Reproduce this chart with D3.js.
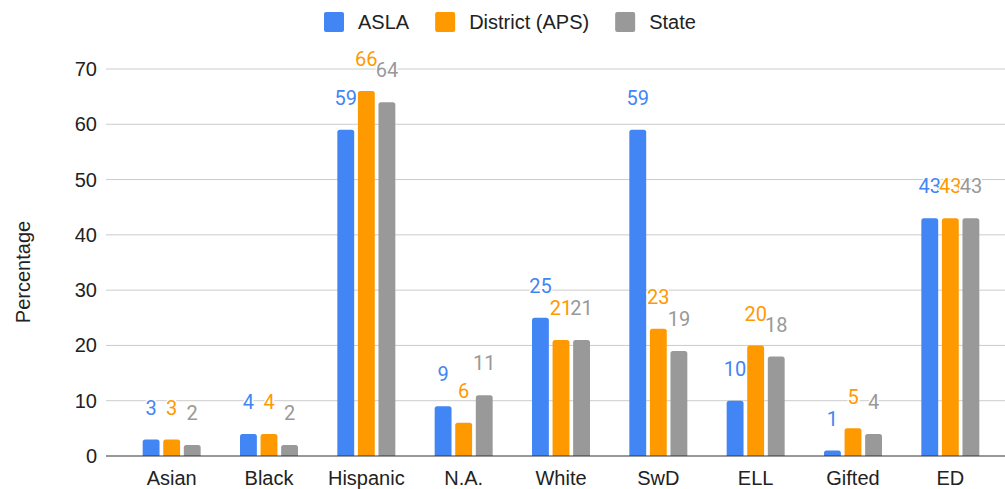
<!DOCTYPE html>
<html>
<head>
<meta charset="utf-8">
<script src="https://cdn.jsdelivr.net/npm/d3@7"></script>
<style>
  body { margin: 0; background: #fff; }
  text { font-family: "Liberation Sans", Arial, sans-serif; }
  .val { font-family: Roboto, Arial, sans-serif; }
</style>
</head>
<body>
<div class="chart"></div>
<script>
const categories = ['Asian', 'Black', 'Hispanic', 'N.A.', 'White', 'SwD', 'ELL', 'Gifted', 'ED'];
const seriesNames = ['ASLA', 'District (APS)', 'State'];
const asla = [3, 4, 59, 9, 25, 59, 10, 1, 43];
const district = [3, 4, 66, 6, 21, 23, 20, 5, 43];
const state = [2, 2, 64, 11, 21, 19, 18, 4, 43];
const yTicks = [0, 10, 20, 30, 40, 50, 60, 70];
const colors = ['#4285f4', '#ff9900', '#999999'];

const w = 1005;
const h = 489;

const svg = d3.select('.chart')
    .append('svg')
    .attr('width', w)
    .attr('height', h);

const seriesValues = [asla, district, state];

const x = d3.scaleBand()
    .domain(categories)
    .range([123, 999]);

const xInner = d3.scaleBand()
    .domain(seriesNames)
    .range([-29, 29])
    .paddingInner(0.18);

const y = d3.scaleLinear()
    .domain([0, 70])
    .range([456, 69]);

// gridlines
svg.append('g')
    .selectAll('line')
    .data(yTicks.filter(d => d !== 0))
    .enter()
    .append('line')
    .attr('x1', 106)
    .attr('x2', w)
    .attr('y1', d => y(d))
    .attr('y2', d => y(d))
    .attr('stroke', '#cccccc')
    .attr('stroke-width', 1);

// y tick labels
svg.append('g')
    .selectAll('text')
    .data(yTicks)
    .enter()
    .append('text')
    .attr('x', 97)
    .attr('y', d => y(d))
    .attr('dy', '0.35em')
    .attr('text-anchor', 'end')
    .style('font-size', '20px')
    .attr('fill', '#222')
    .text(d => d);

// y title
svg.append('text')
    .attr('transform', 'translate(23,272) rotate(-90)')
    .attr('text-anchor', 'middle')
    .attr('dy', '0.35em')
    .style('font-size', '20px')
    .attr('fill', '#222')
    .text('Percentage');

// bars
const rows = [];
categories.forEach((c, i) => {
    seriesNames.forEach((s, j) => {
        rows.push({ cat: c, series: s, idx: j, value: seriesValues[j][i] });
    });
});

const barPath = (d) => {
    const x0 = x(d.cat) + x.bandwidth() / 2 + xInner(d.series);
    const bw = xInner.bandwidth();
    const y0 = y(0);
    const y1 = y(d.value);
    const r = Math.min(2.5, (y0 - y1) / 2);
    return `M${x0},${y0} L${x0},${y1 + r} Q${x0},${y1} ${x0 + r},${y1} L${x0 + bw - r},${y1} Q${x0 + bw},${y1} ${x0 + bw},${y1 + r} L${x0 + bw},${y0} Z`;
};

svg.append('g')
    .selectAll('path')
    .data(rows)
    .enter()
    .append('path')
    .attr('d', barPath)
    .attr('fill', d => colors[d.idx]);

// baseline
svg.append('line')
    .attr('x1', 106)
    .attr('x2', w)
    .attr('y1', y(0))
    .attr('y2', y(0))
    .attr('stroke', '#333')
    .attr('stroke-width', 1.2);

// value labels
svg.append('g')
    .selectAll('text')
    .data(rows)
    .enter()
    .append('text')
    .attr('class', 'val')
    .attr('x', d => x(d.cat) + x.bandwidth() / 2 + xInner(d.series) + xInner.bandwidth() / 2)
    .attr('y', d => y(d.value) - 32)
    .attr('dy', '0.36em')
    .attr('text-anchor', 'middle')
    .style('font-size', '20px')
    .attr('fill', d => colors[d.idx])
    .attr('stroke', '#fff')
    .attr('stroke-width', 3)
    .attr('paint-order', 'stroke')
    .text(d => d.value);

// x labels
svg.append('g')
    .selectAll('text')
    .data(categories)
    .enter()
    .append('text')
    .attr('x', d => x(d) + x.bandwidth() / 2)
    .attr('y', 478)
    .attr('dy', '0.35em')
    .attr('text-anchor', 'middle')
    .style('font-size', '20px')
    .attr('fill', '#222')
    .text(d => d);

// legend
const legend = svg.append('g');
let lx = 324;
seriesNames.forEach((s, i) => {
    legend.append('rect')
        .attr('x', lx)
        .attr('y', 12)
        .attr('width', 20)
        .attr('height', 20)
        .attr('rx', 2)
        .attr('fill', colors[i]);
    const t = legend.append('text')
        .attr('x', lx + 34)
        .attr('y', 22)
        .attr('dy', '0.35em')
        .style('font-size', '20px')
        .attr('fill', '#222')
        .text(s);
    lx += 34 + t.node().getComputedTextLength() + 26;
});
</script>
</body>
</html>
